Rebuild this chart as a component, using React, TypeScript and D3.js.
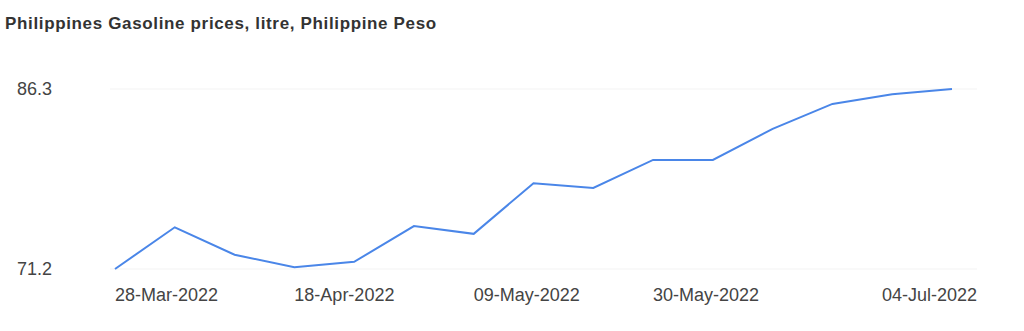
import React from "react";
import * as d3 from "d3";

const title = "Philippines Gasoline prices, litre, Philippine Peso";
const dates = [
  "28-Mar-2022", "04-Apr-2022", "11-Apr-2022", "18-Apr-2022", "25-Apr-2022",
  "02-May-2022", "09-May-2022", "16-May-2022", "23-May-2022", "30-May-2022",
  "06-Jun-2022", "13-Jun-2022", "20-Jun-2022", "27-Jun-2022", "04-Jul-2022",
];
const prices = [71.2, 74.7, 72.4, 71.35, 71.8, 74.8, 74.15, 78.4, 78.0, 80.35, 80.35, 82.95, 85.05, 85.85, 86.3];
const yTicks = [71.2, 86.3];
const xLabelIdx = [0, 3, 6, 9];
const lastLabel = "04-Jul-2022";

const W = 1024, H = 331;
const left = 115, right = 952, top = 89, bottom = 269;

export default function App() {
  const x = d3.scaleLinear().domain([0, dates.length - 1]).range([left, right]);
  const y = d3.scaleLinear().domain([71.2, 86.3]).range([bottom, top]);
  const line = d3.line<number>().x((_, i) => x(i)).y((d) => y(d));
  const font = "'Liberation Sans', Arial, sans-serif";
  return (
    <svg width={W} height={H} style={{ position: "absolute", left: 0, top: 0, background: "#fff" }}>
      <text x={5} y={29} fontFamily={font} fontWeight="bold" fontSize={17} letterSpacing={0.65} fill="#333">{title}</text>
      {yTicks.map((t) => (
        <g key={t}>
          <line x1={110} x2={977} y1={y(t)} y2={y(t)} stroke="#f3f3f3" strokeWidth={1} />
          <text x={17} y={y(t)} dy="0.35em" fontFamily={font} fontSize={18} fill="#444">{t.toFixed(1)}</text>
        </g>
      ))}
      {xLabelIdx.map((i) => (
        <text key={i} x={x(i)} y={301} fontFamily={font} fontSize={18} fill="#444">{dates[i]}</text>
      ))}
      <text x={977} y={301} textAnchor="end" fontFamily={font} fontSize={18} fill="#444">{lastLabel}</text>
      <path d={line(prices) || ""} fill="none" stroke="#4a86e8" strokeWidth={2} />
    </svg>
  );
}
